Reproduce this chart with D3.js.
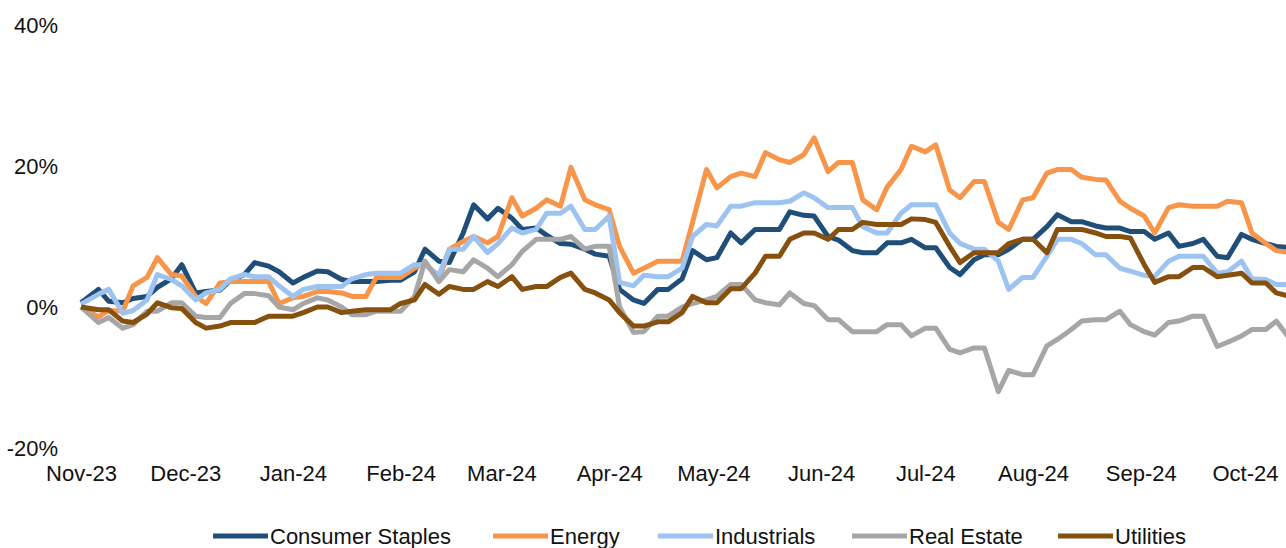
<!DOCTYPE html>
<html>
<head>
<meta charset="utf-8">
<script src="https://cdn.jsdelivr.net/npm/d3@7"></script>
<style>
  body { margin: 0; background: #fff; }
  svg text { font-family: "Liberation Sans", Arial, sans-serif; fill: #111; }
</style>
</head>
<body>
<div id="chart"></div>
<script>
// sample dates (Nov-23 .. Oct-24), roughly twice a week
const dates = [
  "2023-11-01","2023-11-06","2023-11-09","2023-11-13","2023-11-16","2023-11-20","2023-11-23","2023-11-27","2023-11-30",
  "2023-12-04","2023-12-07","2023-12-11","2023-12-14","2023-12-18","2023-12-21","2023-12-25","2023-12-28",
  "2024-01-01","2024-01-04","2024-01-08","2024-01-11","2024-01-15","2024-01-18","2024-01-22","2024-01-25","2024-01-29",
  "2024-02-01","2024-02-05","2024-02-08","2024-02-12","2024-02-15","2024-02-19","2024-02-22","2024-02-26","2024-02-29",
  "2024-03-04","2024-03-07","2024-03-11","2024-03-14","2024-03-18","2024-03-21","2024-03-25","2024-03-28",
  "2024-04-01","2024-04-04","2024-04-08","2024-04-11","2024-04-15","2024-04-18","2024-04-22","2024-04-25","2024-04-29",
  "2024-05-02","2024-05-06","2024-05-09","2024-05-13","2024-05-16","2024-05-20","2024-05-23","2024-05-27","2024-05-30",
  "2024-06-03","2024-06-06","2024-06-10","2024-06-13","2024-06-17","2024-06-20","2024-06-24","2024-06-27",
  "2024-07-01","2024-07-04","2024-07-08","2024-07-11","2024-07-15","2024-07-18","2024-07-22","2024-07-25","2024-07-29",
  "2024-08-01","2024-08-05","2024-08-08","2024-08-12","2024-08-15","2024-08-19","2024-08-22","2024-08-26","2024-08-29",
  "2024-09-02","2024-09-05","2024-09-09","2024-09-12","2024-09-16","2024-09-19","2024-09-23","2024-09-26","2024-09-30",
  "2024-10-03","2024-10-07","2024-10-10","2024-10-14"
];

const consumerStaples = [
  0.6,2.5,0.8,0.6,1.2,1.5,2.8,4.0,6.0,
  2.0,2.2,2.4,3.8,4.6,6.3,5.8,5.0,
  3.4,4.2,5.1,5.0,3.9,3.6,3.6,3.6,3.8,
  3.8,5.0,8.2,6.5,6.3,10.5,14.5,12.5,14.0,
  12.6,11.0,11.2,10.2,9.0,8.9,8.2,7.5,
  7.2,2.5,1.0,0.5,2.5,2.5,4.0,8.0,6.7,
  7.0,10.5,9.1,11.0,11.0,11.0,13.5,13.0,12.9,
  10.0,9.5,8.0,7.7,7.7,9.1,9.1,9.6,
  8.4,8.4,5.6,4.6,6.7,7.4,7.4,8.2,9.6,
  9.6,11.4,13.1,12.1,12.1,11.5,11.2,11.2,10.7,
  10.7,9.6,10.5,8.6,9.0,9.6,7.2,7.0,10.3,
  9.6,9.0,8.6,8.4
];
const energy = [
  0,-1.4,-0.5,-0.6,3.0,4.2,7.0,4.6,4.4,
  1.5,0.5,3.4,3.6,3.6,3.6,3.6,0.5,
  1.3,1.5,2.2,2.2,2.0,1.5,1.5,4.2,4.2,
  4.2,5.5,6.3,3.9,8.2,9.3,10.0,9.1,10.0,
  15.5,12.9,14.0,15.2,14.3,19.8,15.2,14.5,
  13.8,8.6,4.8,5.5,6.5,6.5,6.5,12.0,19.5,
  16.9,18.5,19.0,18.5,21.9,20.9,20.5,21.6,24.0,
  19.2,20.5,20.5,15.2,13.8,17.0,19.5,22.8,
  22.0,23.0,16.6,15.5,17.8,17.8,12.0,11.0,15.2,
  15.5,19.0,19.5,19.5,18.4,18.1,18.0,15.0,14.0,
  12.9,10.5,14.1,14.5,14.3,14.3,14.3,15.0,14.8,
  10.5,9.0,8.0,7.7
];
const industrials = [
  0.4,1.8,2.5,-0.9,-0.5,1.0,4.6,3.9,3.0,
  1.0,2.0,2.5,4.0,4.6,4.3,4.3,3.0,
  1.5,2.5,2.9,2.9,2.9,4.0,4.6,4.8,4.8,
  4.8,6.0,6.0,4.5,8.2,8.2,10.0,7.7,9.0,
  11.2,10.5,11.0,13.3,13.3,14.3,11.0,11.0,
  12.9,3.5,3.0,4.5,4.3,4.3,5.5,10.0,11.7,
  11.5,14.3,14.3,14.8,14.8,14.8,15.0,16.2,15.5,
  14.1,14.1,14.1,11.4,10.5,10.5,13.3,14.5,
  14.5,14.5,10.5,9.0,8.2,8.2,6.5,2.5,4.2,
  4.2,7.2,9.6,9.6,9.0,7.4,7.4,5.5,5.1,
  4.5,4.3,6.5,7.2,7.2,7.2,4.8,5.0,6.5,
  4.0,3.9,3.2,3.2
];
const realEstate = [
  0,-2.2,-1.5,-3.0,-2.5,-0.6,-0.6,0.6,0.6,
  -1.3,-1.5,-1.5,0.5,1.9,1.9,1.6,0,
  -0.4,0.5,1.3,1.0,0,-1.1,-1.1,-0.6,-0.6,
  -0.6,1.5,6.5,3.6,5.3,5.0,6.7,5.5,4.3,
  6.0,7.9,9.6,9.6,9.6,10.0,8.2,8.6,
  8.6,0,-3.6,-3.5,-1.3,-1.3,0,0.5,1.0,
  1.5,3.2,3.2,1.0,0.6,0.3,2.0,0.5,0.2,
  -1.8,-1.8,-3.5,-3.5,-3.5,-2.5,-2.5,-4.1,
  -3.0,-3.0,-6.0,-6.5,-5.8,-5.8,-12.0,-9.0,-9.6,
  -9.6,-5.5,-4.6,-3.2,-2.0,-1.8,-1.8,-0.6,-2.5,
  -3.5,-4.0,-2.2,-2.0,-1.3,-1.3,-5.6,-5.0,-4.1,
  -3.2,-3.2,-2.0,-4.6
];
const utilities = [
  0,-0.4,-0.4,-2.0,-2.2,-1.0,0.6,-0.1,-0.2,
  -2.2,-3.0,-2.7,-2.2,-2.2,-2.2,-1.3,-1.3,
  -1.3,-0.8,0,0,-0.8,-0.6,-0.4,-0.4,-0.4,
  0.5,1.0,3.2,1.8,2.9,2.5,2.5,3.6,2.9,
  4.3,2.5,2.9,2.9,4.2,4.8,2.5,2.0,
  1.0,-0.8,-2.7,-2.7,-2.1,-2.1,-0.8,1.5,0.6,
  0.6,2.6,2.6,4.8,7.2,7.2,9.6,10.5,10.5,
  9.6,11.0,11.0,12.0,11.7,11.7,11.7,12.5,
  12.4,12.0,8.6,6.3,7.7,7.7,7.7,9.0,9.6,
  9.6,7.7,11.0,11.0,11.0,10.5,10.0,10.0,9.8,
  6.0,3.5,4.3,4.3,5.6,5.6,4.3,4.5,4.8,
  3.4,3.4,2.0,1.5
];

const seriesNames = ["Consumer Staples", "Energy", "Industrials", "Real Estate", "Utilities"];
const seriesValues = [consumerStaples, energy, industrials, realEstate, utilities];
const colors = ["#1f4e79", "#f7964a", "#9dc3f0", "#a6a6a6", "#86500f"];
const monthTicks = ["2023-11-01","2023-12-01","2024-01-01","2024-02-01","2024-03-01","2024-04-01",
  "2024-05-01","2024-06-01","2024-07-01","2024-08-01","2024-09-01","2024-10-01"];
const yTicks = [-20, 0, 20, 40];

const width = 1286;
const height = 548;
const parse = d3.timeParse("%Y-%m-%d");

const svg = d3.select("#chart").append("svg")
    .attr("width", width)
    .attr("height", height);

// date axis: Nov-23 label sits at x=81, Oct-24 at x=1245
const x = d3.scaleTime()
    .domain([parse("2023-11-01"), parse("2024-10-01")])
    .range([81, 1245]);

const y = d3.scaleLinear()
    .domain([-20, 40])
    .range([448, 25]);

// y axis labels
const yAxis = svg.append("g")
    .attr("transform", "translate(58,0)")
    .call(d3.axisLeft(y).tickValues(yTicks).tickSize(0).tickPadding(0).tickFormat(d => d + "%"));
yAxis.select(".domain").remove();
yAxis.selectAll("text")
    .style("font-size", "22px")
    .attr("fill", "#111");

// x axis labels
const xAxis = svg.append("g")
    .attr("transform", "translate(0,465)")
    .call(d3.axisBottom(x).tickValues(monthTicks.map(parse)).tickSize(0).tickPadding(0)
        .tickFormat(d3.timeFormat("%b-%y")));
xAxis.select(".domain").remove();
xAxis.selectAll("text")
    .style("font-size", "22px")
    .attr("fill", "#111");

const line = d3.line()
    .x((d, i) => x(parse(dates[i])))
    .y(d => y(d));

svg.append("g")
  .selectAll("path")
  .data(seriesValues)
  .join("path")
    .attr("d", d => line(d))
    .attr("fill", "none")
    .attr("stroke", (d, i) => colors[i])
    .attr("stroke-width", 5)
    .attr("stroke-linejoin", "round");

// legend
const legendX = [213, 493, 658, 852, 1058];
const legend = svg.append("g")
    .selectAll("g")
    .data(seriesNames)
    .join("g")
    .attr("transform", (d, i) => `translate(${legendX[i]},536)`);

legend.append("line")
    .attr("x1", 0).attr("x2", 55)
    .attr("stroke", (d, i) => colors[i])
    .attr("stroke-width", 5);

legend.append("text")
    .attr("x", 57)
    .attr("dy", "0.35em")
    .style("font-size", "22px")
    .text(d => d);
</script>
</body>
</html>
